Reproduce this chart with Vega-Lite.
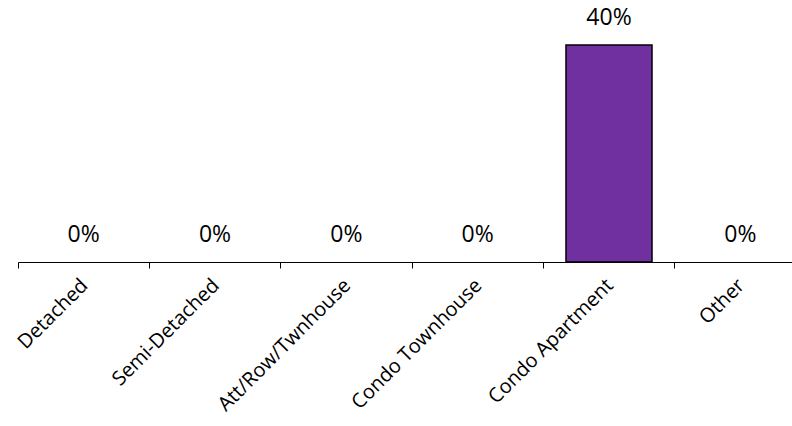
{
  "$schema": "https://vega.github.io/schema/vega-lite/v6.json",
  "width": 774,
  "height": 217,
  "autosize": {"type": "none"},
  "padding": {"left": 18, "top": 45, "right": 0, "bottom": 164},
  "background": "white",
  "config": {"view": {"stroke": null}, "font": "Open Sans"},
  "data": {
    "values": [
      {"type": "Detached", "pct": 0},
      {"type": "Semi-Detached", "pct": 0},
      {"type": "Att/Row/Twnhouse", "pct": 0},
      {"type": "Condo Townhouse", "pct": 0},
      {"type": "Condo Apartment", "pct": 0.4},
      {"type": "Other", "pct": 0}
    ]
  },
  "encoding": {
    "x": {
      "field": "type",
      "type": "nominal",
      "sort": ["Detached", "Semi-Detached", "Att/Row/Twnhouse", "Condo Townhouse", "Condo Apartment", "Other"],
      "scale": {"range": [0, 788], "paddingInner": 0, "paddingOuter": 0},
      "axis": {
        "title": null,
        "bandPosition": 0,
        "labelAngle": -45,
        "labelAlign": "right",
        "labelBaseline": "top",
        "labelFontSize": 20,
        "labelColor": "black",
        "labelPadding": 7,
        "labelOffset": -6,
        "tickColor": "black",
        "tickSize": 6,
        "domainColor": "black",
        "grid": false
      }
    },
    "y": {
      "field": "pct",
      "type": "quantitative",
      "scale": {"domain": [0, 0.4]},
      "axis": null
    }
  },
  "layer": [
    {
      "transform": [{"filter": "datum.pct > 0"}],
      "mark": {"type": "bar", "width": {"band": 0.655}, "fill": "#7030A0", "stroke": "black", "strokeWidth": 1.5}
    },
    {
      "mark": {"type": "text", "baseline": "middle", "dy": -27, "fontSize": 23, "color": "black"},
      "encoding": {"text": {"field": "pct", "type": "quantitative", "format": ".0%"}}
    }
  ]
}
